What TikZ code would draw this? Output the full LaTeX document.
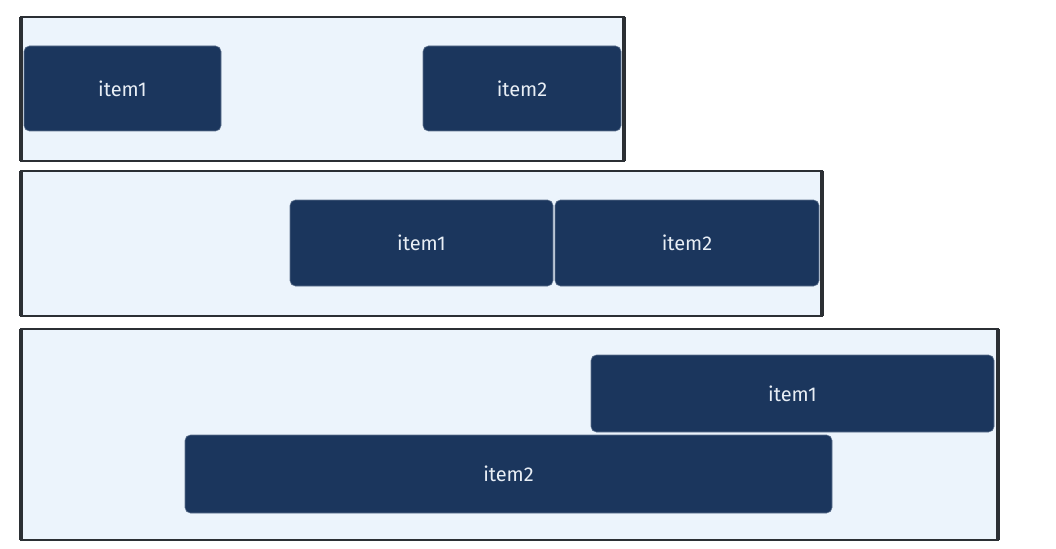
\documentclass[tikz,border=0pt]{standalone}
\usepackage{fontspec}
\setmainfont{Fira Sans}
\definecolor{cbg}{HTML}{ECF4FC}
\definecolor{cborder}{HTML}{2B2F34}
\definecolor{itemfill}{HTML}{1B365D}
\definecolor{itemtext}{HTML}{E8EEF5}
\begin{document}
\begin{tikzpicture}[x=0.75pt,y=-0.75pt,
  container/.style={fill=cbg,draw=cborder,line width=1.7pt},
  sideline/.style={draw=cborder,line width=2.4pt},
  itembox/.style={fill=itemfill,draw=itemfill!70!white,line width=0.4pt,rounded corners=4pt},
  itemlabel/.style={text=itemtext,font=\fontsize{15}{18}\selectfont}]
\useasboundingbox (0,0) rectangle (1056,549);
% container 1
\draw[container] (21,17) rectangle (624,161);
\draw[sideline] (21,17) -- (21,161) (624,17) -- (624,161);
\draw[itembox] (24,46) rectangle (221,131);
\node[itemlabel] (a1) at (122.5,88.5) {item1};
\draw[itembox] (423,46) rectangle (621,131);
\node[itemlabel] (a2) at (522,88.5) {item2};
% container 2
\draw[container] (21,171) rectangle (822,316);
\draw[sideline] (21,171) -- (21,316) (822,171) -- (822,316);
\draw[itembox] (290,200) rectangle (553,286);
\node[itemlabel] (b1) at (421.5,243) {item1};
\draw[itembox] (555,200) rectangle (819,286);
\node[itemlabel] (b2) at (687,243) {item2};
% container 3
\draw[container] (21,329) rectangle (998,540);
\draw[sideline] (21,329) -- (21,540) (998,329) -- (998,540);
\draw[itembox] (591,355) rectangle (994,432);
\node[itemlabel] (c1) at (792.5,393.5) {item1};
\draw[itembox] (185,435) rectangle (832,513);
\node[itemlabel] (c2) at (508.5,474) {item2};
\end{tikzpicture}
\end{document}
